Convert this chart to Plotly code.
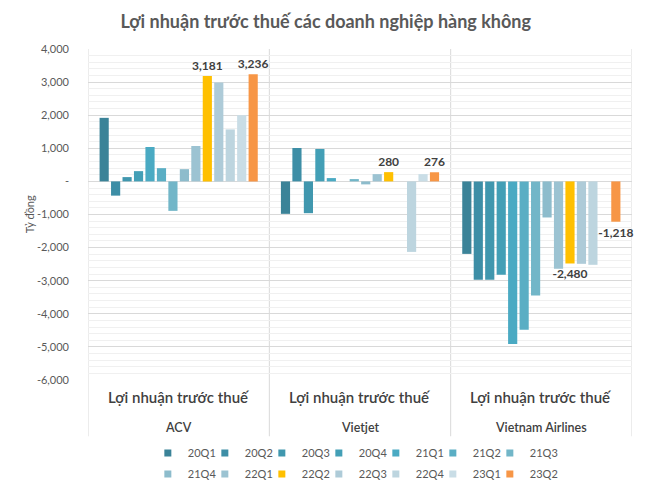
import plotly.graph_objects as go

companies = ["ACV", "Vietjet", "Vietnam Airlines"]
metric_label = "Lợi nhuận trước thuế"
quarters = ["20Q1", "20Q2", "20Q3", "20Q4", "21Q1", "21Q2", "21Q3",
            "21Q4", "22Q1", "22Q2", "22Q3", "22Q4", "23Q1", "23Q2"]

acv = [1920, -430, 130, 310, 1040, 400, -890, 370, 1070, 3181, 2990, 1570, 2000, 3236]
vietjet = [-980, 1010, -960, 980, 100, None, 70, -90, 220, 280, None, -2130, 220, 276]
vietnam_airlines = [-2190, -2970, -2970, -2820, -4910, -4480, -3450, -1090, -2640, -2480,
                    -2490, -2520, None, -1218]

labelled_quarters = ["22Q2", "23Q2"]

colors = ["#3b8398", "#3d8ea6", "#4097ae", "#439fb6", "#4aaac3", "#5aaec4", "#72b6c8",
          "#8dbccc", "#9cc3d2", "#ffc000", "#aecbd8", "#bdd5df", "#c9dde6", "#f79646"]

FONT = "Lato, 'Open Sans', sans-serif"
TXT = "#404040"
GREY = "#595959"

fig = go.Figure()
for i, q in enumerate(quarters):
    vals = [acv[i], vietjet[i], vietnam_airlines[i]]
    show_text = q in labelled_quarters
    fig.add_trace(go.Bar(
        x=companies, y=vals, name=q, marker_color=colors[i], marker_line_width=0,
        showlegend=False, legendgroup=q,
        texttemplate="%{y:,}" if show_text else None,
        textposition="outside" if show_text else "none",
        constraintext="none",
        textfont=dict(family=FONT, size=12, color=TXT, weight="bold"),
        cliponaxis=False,
        hovertemplate="%{x} " + q + ": %{y:,}<extra></extra>",
    ))
    # legend marker (small square like Excel), split over two legend rows
    fig.add_trace(go.Scatter(
        x=[None], y=[None], mode="markers", name=q, legendgroup=q,
        legend="legend" if i < 7 else "legend2",
        marker=dict(symbol="square", size=7, color=colors[i]),
        hoverinfo="skip",
    ))

# invisible spacer entries so the last legend label is not clipped
for lg in ["legend", "legend2"]:
    fig.add_trace(go.Scatter(
        x=[None], y=[None], mode="markers", name=" ", legend=lg,
        marker=dict(symbol="square", size=7, color="rgba(0,0,0,0)"),
        hoverinfo="skip",
    ))

tickvals = list(range(-6000, 4001, 1000))
ticktext = ["-" if v == 0 else f"{v:,}" for v in tickvals]

legend_style = dict(orientation="h", xanchor="left", yanchor="middle",
                    font=dict(family=FONT, size=11, color=GREY),
                    itemwidth=30, entrywidth=12, tracegroupgap=0,
                    bgcolor="rgba(0,0,0,0)")

fig.update_layout(
    width=645, height=493,
    margin=dict(l=88, r=13, t=49, b=113, autoexpand=False),
    paper_bgcolor="white", plot_bgcolor="white",
    barmode="group", bargap=0.115, bargroupgap=0.2,
    font=dict(family=FONT, size=11, color=GREY),
    title=dict(text="<b>Lợi nhuận trước thuế các doanh nghiệp hàng không</b>",
               x=0.505, xanchor="center", y=0.955, yanchor="middle",
               font=dict(family=FONT, size=18, color=GREY)),
    showlegend=True,
    legend=dict(x=0.11, y=-0.2205, **legend_style),
    legend2=dict(x=0.11, y=-0.284, **legend_style),
    xaxis=dict(type="category", showticklabels=False, showgrid=False, zeroline=False,
               showline=False, ticks="", range=[-0.5, 2.5], fixedrange=True,
               automargin=False),
    yaxis=dict(range=[-6000, 4000], tickvals=tickvals, ticktext=ticktext,
               showgrid=True, gridcolor="#d9d9d9", gridwidth=1,
               minor=dict(dtick=200, showgrid=True, gridcolor="#f0f0f0", gridwidth=1),
               zeroline=False, showline=False, ticks="", ticklabelstandoff=18,
               automargin=False,
               tickfont=dict(family=FONT, size=11, color=GREY)),
)

# y-axis title placed close to the tick labels, as in the original
fig.add_annotation(text="Tỷ đồng", xref="paper", yref="paper", x=-0.107, y=0.5,
                   textangle=-90, showarrow=False, xanchor="center", yanchor="middle",
                   font=dict(family=FONT, size=11, color=GREY))

# vertical divider lines (category boundaries) extending into the label area
for xb in [-0.5, 0.5, 1.5, 2.5]:
    fig.add_shape(type="line", xref="x", yref="paper", x0=xb, x1=xb, y0=-0.17, y1=1,
                  line=dict(color="#d9d9d9", width=1), layer="below")

for c in companies:
    fig.add_annotation(x=c, xref="x", y=-0.052, yref="paper", text=metric_label,
                       showarrow=False, yanchor="middle",
                       font=dict(family=FONT, size=15, color=TXT, weight=600))
    fig.add_annotation(x=c, xref="x", y=-0.142, yref="paper", text=c,
                       showarrow=False, yanchor="middle",
                       font=dict(family=FONT, size=12.5, color=TXT, weight=600))

fig.write_html("out.html", config={"displayModeBar": False},
               post_script="document.body.style.margin='0';document.body.style.padding='0';")
